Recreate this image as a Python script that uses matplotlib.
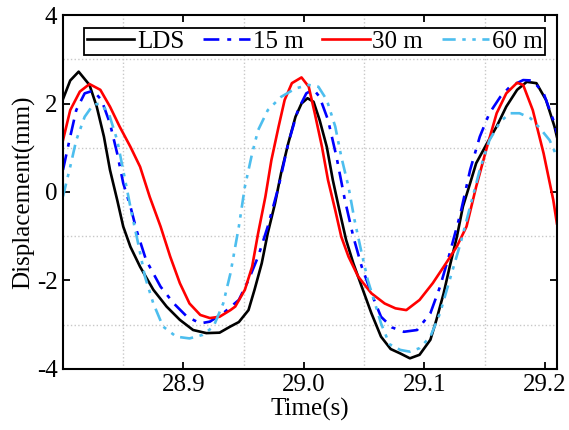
import matplotlib
matplotlib.use("Agg")
import matplotlib.pyplot as plt
import matplotlib.ticker as mticker

plt.rcParams["font.family"] = ["Liberation Serif", "DejaVu Serif"]
plt.rcParams["axes.unicode_minus"] = False

# LDS reference
t_lds = [28.800, 28.806, 28.813, 28.822, 28.828, 28.834, 28.839, 28.845, 28.850,
         28.856, 28.864, 28.875, 28.886, 28.897, 28.908, 28.919, 28.930, 28.939,
         28.946, 28.954, 28.959, 28.965, 28.970, 28.976, 28.981, 28.987, 28.993,
         28.998, 29.003, 29.008, 29.013, 29.019, 29.024, 29.030, 29.035, 29.041,
         29.048, 29.056, 29.064, 29.072, 29.080, 29.088, 29.096, 29.105, 29.110,
         29.116, 29.121, 29.127, 29.132, 29.138, 29.143, 29.152, 29.160, 29.168,
         29.177, 29.185, 29.193, 29.201, 29.208, 29.210]
y_lds = [2.10, 2.52, 2.72, 2.42, 1.93, 1.25, 0.50, -0.18, -0.78,
         -1.24, -1.69, -2.21, -2.59, -2.89, -3.12, -3.19, -3.18, -3.04,
         -2.94, -2.67, -2.21, -1.61, -0.93, -0.26, 0.42, 1.10, 1.70,
         2.00, 2.12, 2.04, 1.63, 1.02, 0.27, -0.48, -1.08, -1.61,
         -2.14, -2.74, -3.27, -3.55, -3.65, -3.76, -3.68, -3.34, -2.89,
         -2.29, -1.69, -1.01, -0.33, 0.20, 0.65, 1.10, 1.48, 1.93,
         2.31, 2.49, 2.46, 2.08, 1.48, 1.25]

# 15 m
t_15 = [28.800, 28.806, 28.811, 28.818, 28.825, 28.832, 28.839, 28.845, 28.850,
        28.856, 28.861, 28.869, 28.881, 28.892, 28.903, 28.914, 28.922, 28.933,
        28.946, 28.954, 28.962, 28.970, 28.979, 28.987, 28.995, 29.002, 29.008,
        29.013, 29.020, 29.027, 29.034, 29.041, 29.048, 29.056, 29.064, 29.073,
        29.083, 29.094, 29.105, 29.113, 29.121, 29.130, 29.138, 29.146, 29.154,
        29.163, 29.171, 29.182, 29.190, 29.199, 29.207, 29.210]
y_15 = [0.50, 1.25, 1.85, 2.23, 2.29, 2.08, 1.55, 0.87, 0.20,
        -0.33, -0.86, -1.54, -2.14, -2.52, -2.82, -2.97, -2.93, -2.74,
        -2.44, -1.99, -1.46, -0.78, 0.12, 1.10, 1.85, 2.23, 2.32,
        2.15, 1.63, 0.80, -0.18, -1.01, -1.69, -2.29, -2.82, -3.06,
        -3.16, -3.12, -2.74, -2.14, -1.39, -0.48, 0.50, 1.25, 1.78,
        2.15, 2.38, 2.53, 2.52, 2.23, 1.63, 1.33]

# 30 m
t_30 = [28.800, 28.806, 28.814, 28.822, 28.831, 28.839, 28.847, 28.856, 28.864,
        28.872, 28.881, 28.889, 28.897, 28.905, 28.914, 28.922, 28.930, 28.939,
        28.943, 28.951, 28.957, 28.962, 28.968, 28.973, 28.979, 28.984, 28.990,
        28.998, 29.004, 29.009, 29.015, 29.020, 29.026, 29.031, 29.037, 29.045,
        29.056, 29.067, 29.076, 29.085, 29.096, 29.107, 29.118, 29.127, 29.135,
        29.143, 29.152, 29.160, 29.168, 29.177, 29.182, 29.190, 29.199, 29.207,
        29.210]
y_30 = [1.17, 1.85, 2.27, 2.44, 2.31, 1.93, 1.48, 1.02, 0.57,
        -0.11, -0.78, -1.46, -2.06, -2.52, -2.78, -2.85, -2.82, -2.67,
        -2.59, -2.21, -1.69, -0.93, -0.11, 0.72, 1.48, 2.08, 2.46,
        2.59, 2.38, 1.78, 1.02, 0.27, -0.41, -1.01, -1.46, -1.91,
        -2.29, -2.52, -2.63, -2.67, -2.44, -2.06, -1.61, -1.23, -0.78,
        0.12, 1.02, 1.78, 2.23, 2.47, 2.42, 1.85, 0.87, -0.18,
        -0.71]

# 60 m
t_60 = [28.800, 28.806, 28.811, 28.818, 28.825, 28.831, 28.838, 28.845, 28.851,
        28.857, 28.863, 28.868, 28.875, 28.883, 28.894, 28.905, 28.916, 28.925,
        28.933, 28.939, 28.946, 28.951, 28.957, 28.962, 28.970, 28.981, 28.993,
        29.004, 29.012, 29.019, 29.026, 29.031, 29.037, 29.042, 29.048, 29.053,
        29.059, 29.064, 29.071, 29.080, 29.088, 29.096, 29.105, 29.113, 29.121,
        29.130, 29.138, 29.146, 29.154, 29.163, 29.171, 29.179, 29.188, 29.196,
        29.204, 29.210]
y_60 = [-0.10, 0.57, 1.17, 1.70, 1.97, 2.00, 1.78, 1.17, 0.35,
        -0.48, -1.24, -1.91, -2.52, -3.04, -3.27, -3.31, -3.23, -3.04,
        -2.52, -1.84, -0.78, 0.12, 0.87, 1.40, 1.85, 2.15, 2.34,
        2.42, 2.38, 2.08, 1.48, 0.80, 0.12, -0.63, -1.39, -1.99,
        -2.52, -2.97, -3.44, -3.57, -3.61, -3.53, -3.27, -2.74, -1.99,
        -1.16, -0.33, 0.50, 1.17, 1.59, 1.78, 1.78, 1.67, 1.44,
        1.17, 0.80]

fig = plt.figure(figsize=(5.69, 4.30), dpi=100)
ax = fig.add_axes([0.1107, 0.142, 0.868, 0.823])

lw = 1.9
ax.plot(t_lds, y_lds, color="black", lw=lw, label="LDS")
ax.plot(t_15, y_15, color="#0000FF", lw=lw, linestyle=(0, (6, 3, 1.5, 3)), label="15 m")
ax.plot(t_30, y_30, color="#FF0000", lw=lw, label="30 m")
ax.plot(t_60, y_60, color="#4DBEEE", lw=lw, linestyle=(0, (5, 2.5, 1.3, 2.5, 1.3, 2.5)),
        label="60 m")

ax.set_xlim(28.8, 29.21)
ax.set_ylim(-4, 4)
ax.set_xticks([28.9, 29.0, 29.1, 29.2])
ax.xaxis.set_major_formatter(mticker.FormatStrFormatter("%.1f"))
ax.set_yticks([-4, -2, 0, 2, 4])
ax.xaxis.set_minor_locator(mticker.FixedLocator([28.85, 28.95, 29.05, 29.15]))
ax.yaxis.set_minor_locator(mticker.FixedLocator([-3, -1, 1, 3]))
ax.grid(which="minor", color="#c8c8c8", linestyle=":", linewidth=1.0)
ax.tick_params(which="major", direction="in", top=True, right=True, length=5,
               width=1.3, labelsize=18, pad=4)
ax.tick_params(which="minor", length=0)
for s in ax.spines.values():
    s.set_linewidth(1.5)

ax.set_xlabel("Time(s)", fontsize=18, labelpad=1)
ax.set_ylabel("Displacement(mm)", fontsize=18, labelpad=1)

leg = ax.legend(loc="upper center", ncol=4, fontsize=18, frameon=True, fancybox=False,
                edgecolor="black", framealpha=1, handlelength=1.9, handletextpad=0.1,
                columnspacing=0.75, borderpad=0.1, borderaxespad=0.5,
                bbox_to_anchor=(0.51, 1.0))
leg.get_frame().set_linewidth(1.3)

fig.savefig("out.png", dpi=100)
